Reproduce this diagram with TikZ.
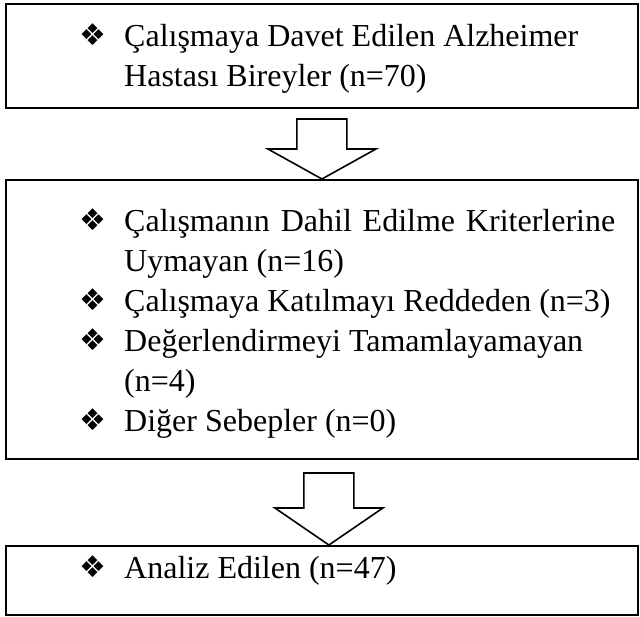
\documentclass[tikz,border=0pt]{standalone}
\usepackage{fontspec}
\setmainfont{Liberation Serif}
\newfontfamily\symfont{DejaVu Sans}
\begin{document}
\begin{tikzpicture}[x=1pt,y=-1pt,
  box/.style={draw, line width=1.8pt, rectangle, inner sep=0pt, anchor=north west},
  txt/.style={anchor=base west, inner sep=0pt, font=\fontsize{32}{40}\selectfont},
  bul/.style={anchor=base west, inner sep=0pt, font=\symfont\fontsize{30}{30}\selectfont},
  blockarrow/.style={draw, line width=1.6pt, fill=white, line join=miter}]
\useasboundingbox (0,0) rectangle (640,616);
% boxes
\node[box, minimum width=632pt, minimum height=104pt] (b1) at (5,3) {};
\node[box, minimum width=632pt, minimum height=279pt] (b2) at (5,179) {};
\node[box, minimum width=632pt, minimum height=69pt] (b3) at (5,545) {};
% box 1 text
\node[bul] (s1) at (79,45) {❖};
\node[txt] (t1a) at (124,46) {Çalışmaya Davet Edilen Alzheimer};
\node[txt] (t1b) at (124,86) {Hastası Bireyler (n=70)};
% box 2 text
\node[bul] (s2) at (79,230) {❖};
\node[txt] (t2a) at (124,231) {\makebox[491pt][s]{Çalışmanın Dahil Edilme Kriterlerine}};
\node[txt] (t2b) at (124,271) {Uymayan (n=16)};
\node[bul] (s3) at (79,310) {❖};
\node[txt] (t2c) at (124,311) {Çalışmaya Katılmayı Reddeden (n=3)};
\node[bul] (s4) at (79,350) {❖};
\node[txt] (t2d) at (124,351) {Değerlendirmeyi Tamamlayamayan};
\node[txt] (t2e) at (124,391) {(n=4)};
\node[bul] (s5) at (79,430) {❖};
\node[txt] (t2f) at (124,431) {Diğer Sebepler (n=0)};
% box 3 text
\node[bul] (s6) at (79,577) {❖};
\node[txt] (t3a) at (124,578) {Analiz Edilen (n=47)};
% block arrows
\draw[blockarrow] (b2.north) -- ++(-54,-30) -- ++(29,0) -- ++(0,-30) -- ++(50,0) -- ++(0,30) -- ++(29,0) -- cycle;
\draw[blockarrow] ([xshift=7pt]b3.north) -- ++(-54,-37) -- ++(29,0) -- ++(0,-35) -- ++(50,0) -- ++(0,35) -- ++(29,0) -- cycle;
\end{tikzpicture}
\end{document}
